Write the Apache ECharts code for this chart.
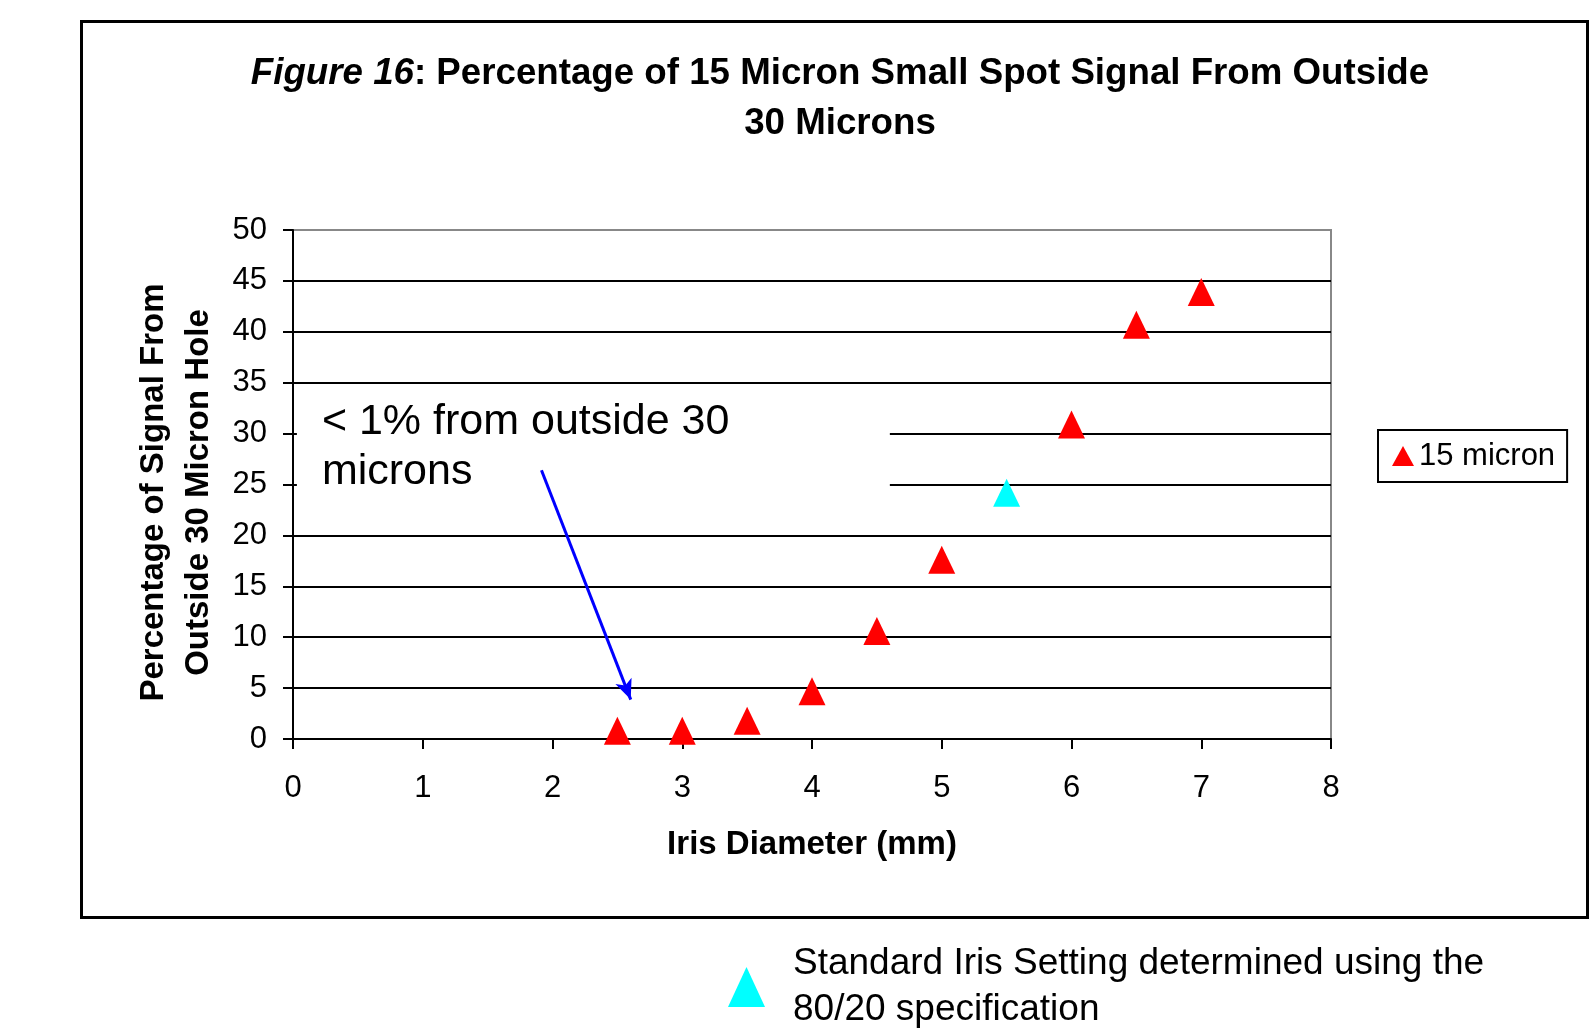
<!DOCTYPE html>
<html>
<head>
<meta charset="utf-8">
<script src="https://cdn.jsdelivr.net/npm/echarts@6/dist/echarts.min.js"></script>
<style>
html,body{margin:0;padding:0;background:#fff;}
#chart{width:1590px;height:1031px;}
</style>
</head>
<body>
<div id="chart"></div>
<script>
// ---- data ----
const irisDiameter = [2.5, 3, 3.5, 4, 4.5, 5, 6, 6.5, 7];
const signalPct = [0.8, 0.8, 1.8, 4.7, 10.6, 17.6, 30.9, 40.7, 43.9];
const standardIris = [5.5];
const standardPct = [24.2];
const seriesName = '15 micron';
const standardName = 'Standard Iris Setting determined using the\n80/20 specification';
const titleLine1 = 'Percentage of 15 Micron Small Spot Signal From Outside';
const titleLine2 = '30 Microns';
const xName = 'Iris Diameter (mm)';
const yName = 'Percentage of Signal From\nOutside 30 Micron Hole';
const noteText = '< 1% from outside 30\nmicrons';
// annotation box and arrow in data units
const noteBox = [[0.03, 34.7], [4.6, 23.5]];
const arrowFrom = [1.915, 26.4];
const arrowTo = [2.603, 3.87];

const FONT = '"Liberation Sans", Arial, sans-serif';
const chart = echarts.init(document.getElementById('chart'));

const gridLineColors = [];
for (let i = 0; i < 10; i++) gridLineColors.push('#000');
gridLineColors.push('#888');

chart.setOption({
  animation: false,
  backgroundColor: '#fff',
  textStyle: {fontFamily: FONT},
  title: {
    text: '{i|Figure 16}: ' + titleLine1 + '\n' + titleLine2,
    left: 835,
    top: 44,
    textAlign: 'center',
    textStyle: {
      fontFamily: FONT, fontSize: 36.7, fontWeight: 'bold', color: '#000', lineHeight: 50,
      rich: {i: {fontFamily: FONT, fontSize: 36.7, fontWeight: 'bold', fontStyle: 'italic', color: '#000'}}
    }
  },
  graphic: [{
    type: 'rect',
    shape: {x: 81.5, y: 21.5, width: 1506, height: 896},
    style: {fill: 'none', stroke: '#000', lineWidth: 3},
    silent: true
  }],
  legend: [{
    data: [seriesName],
    left: 1378, top: 430,
    orient: 'vertical',
    padding: [10, 12, 10, 14],
    borderColor: '#000', borderWidth: 2,
    itemWidth: 22, itemHeight: 20,
    icon: 'triangle',
    textStyle: {fontFamily: FONT, fontSize: 31, color: '#000', lineHeight: 32}
  }, {
    data: [standardName],
    left: 728, top: 941,
    padding: 0,
    itemWidth: 37, itemHeight: 40,
    icon: 'triangle',
    textStyle: {fontFamily: FONT, fontSize: 37, color: '#000', lineHeight: 46, padding: [0, 0, 0, 23]}
  }],
  grid: {
    left: 293, right: 259, top: 230, bottom: 292,
    show: true, borderColor: '#888', borderWidth: 2, backgroundColor: '#fff'
  },
  xAxis: {
    type: 'value', min: 0, max: 8, interval: 1,
    name: xName, nameLocation: 'middle', nameGap: 89,
    nameTextStyle: {fontFamily: FONT, fontSize: 33, fontWeight: 'bold', color: '#000', lineHeight: 33},
    axisLine: {lineStyle: {color: '#000', width: 2}},
    axisTick: {show: true, length: 10, lineStyle: {color: '#000', width: 2}},
    axisLabel: {fontFamily: FONT, fontSize: 31, color: '#000', margin: 34},
    splitLine: {show: false}
  },
  yAxis: {
    type: 'value', min: 0, max: 50, interval: 5,
    name: yName, nameLocation: 'middle', nameGap: 68,
    nameTextStyle: {fontFamily: FONT, fontSize: 33, fontWeight: 'bold', color: '#000', lineHeight: 45, padding: [0, 16, 0, 0]},
    axisLine: {show: true, lineStyle: {color: '#000', width: 2}},
    axisTick: {show: true, length: 10, lineStyle: {color: '#000', width: 2}},
    axisLabel: {fontFamily: FONT, fontSize: 31, color: '#000', margin: 26},
    splitLine: {show: true, lineStyle: {color: gridLineColors, width: 2}}
  },
  series: [{
    name: seriesName,
    type: 'scatter',
    symbol: 'triangle',
    symbolSize: [27, 28],
    itemStyle: {color: '#ff0000', opacity: 1},
    data: irisDiameter.map((x, i) => [x, signalPct[i]]),
    markArea: {
      silent: true,
      itemStyle: {color: '#fff', opacity: 1, borderWidth: 0},
      label: {
        show: true, position: 'insideTopLeft', distance: 0, offset: [25, 11],
        formatter: noteText,
        fontFamily: FONT, fontSize: 43, color: '#000', lineHeight: 50
      },
      data: [[{coord: noteBox[0]}, {coord: noteBox[1]}]]
    },
    markLine: {
      silent: true,
      symbol: ['none', 'arrow'],
      symbolSize: [13, 20],
      label: {show: false},
      lineStyle: {color: '#0000ff', width: 3, type: 'solid'},
      data: [[{coord: arrowFrom}, {coord: arrowTo}]]
    }
  }, {
    name: standardName,
    type: 'scatter',
    symbol: 'triangle',
    symbolSize: [27, 28],
    itemStyle: {color: '#00ffff', opacity: 1},
    data: standardIris.map((x, i) => [x, standardPct[i]])
  }]
});
</script>
</body>
</html>
